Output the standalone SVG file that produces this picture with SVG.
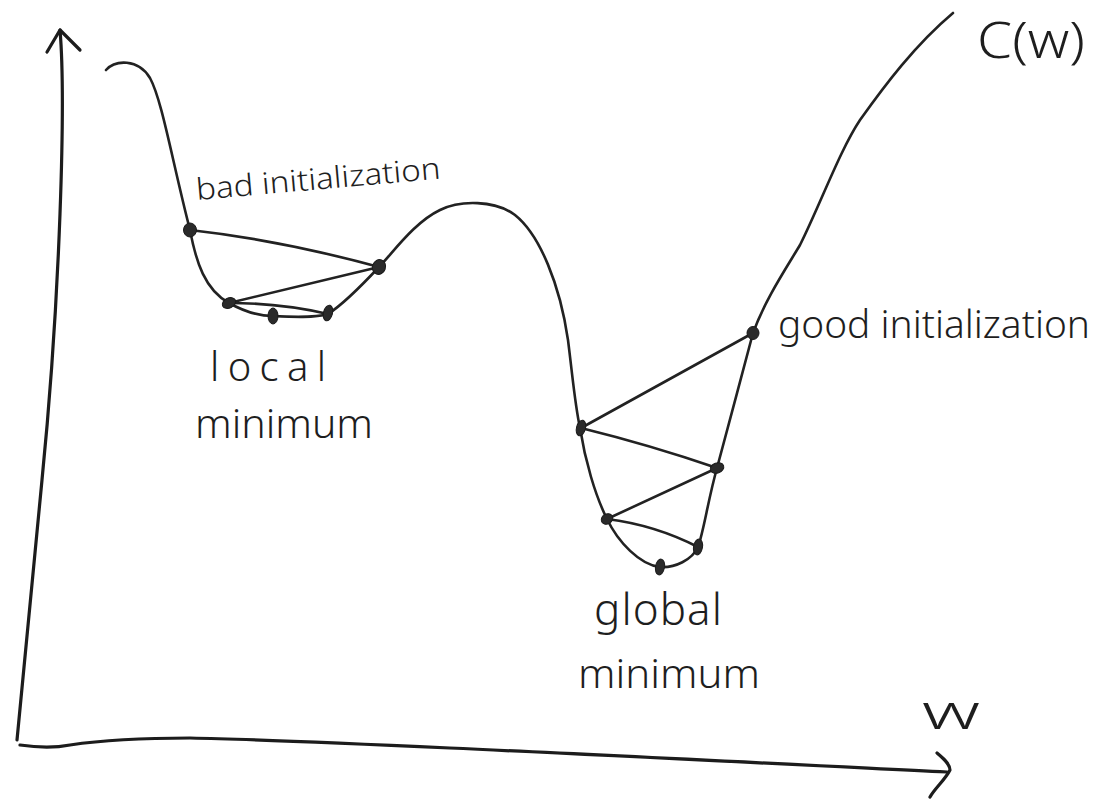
<svg xmlns="http://www.w3.org/2000/svg" width="1099" height="802" viewBox="0 0 1099 802">
<style>
.ink{fill:none;stroke:#222;stroke-width:2.6;stroke-linecap:round;stroke-linejoin:round}
.axis{fill:none;stroke:#1c1c1c;stroke-width:3.2;stroke-linecap:round;stroke-linejoin:round}
.dot{fill:#2a2a2a;stroke:#1a1a1a;stroke-width:1}
.lbl{font-family:"Noto Sans","Liberation Sans",sans-serif;fill:#1e1e1e;font-weight:300}
</style>
<rect width="1099" height="802" fill="#fff"/>
<g id="axes">
<path class="axis" d="M60,30 C66,100 60,300 42,480 L17,740"/>
<path class="axis" d="M47,52 L60,30 L80,50"/>
<path class="axis" d="M20,745 C40,748 55,748 70,745 C110,739 150,738 190,738 C300,740 600,755 947,772"/>
<path class="axis" d="M937,753 C943,758 950,764 950,770 C945,780 935,788 930,797"/>
</g>
<g id="curve">
<path class="ink" d="M106,70 C115,60 138,58 150,78 C162,100 172,160 190,230 C196,262 205,290 229,303 C245,312 258,316 273,316 C293,317 315,318 328,314 C342,305 365,282 379,267 C395,250 415,222 440,210 C460,200 495,200 515,215 C540,235 560,285 568,340 C573,380 575,405 580,428 C585,460 595,495 607,519 C618,542 640,565 660,567 C675,568 692,560 698,547 C704,530 708,500 717,468 C727,430 742,375 753,333 C765,300 785,270 800,245 C820,205 840,150 860,120 C885,85 915,45 953,13"/>
</g>
<g id="connectors">
<path class="ink" d="M190,230 Q280,240 379,267"/>
<path class="ink" d="M379,267 L229,303"/>
<path class="ink" d="M229,303 Q280,303 328,314"/>
<path class="ink" d="M753,333 L581,428"/>
<path class="ink" d="M581,428 Q650,445 717,468"/>
<path class="ink" d="M717,468 L607,519"/>
<path class="ink" d="M607,519 Q655,525 698,547"/>
</g>
<g id="local-points">
<ellipse id="p1" class="dot" cx="190" cy="230" rx="6.5" ry="7"/>
<ellipse id="p2" class="dot" cx="379" cy="267" rx="6.5" ry="7.5" transform="rotate(20 379 267)"/>
<ellipse id="p3" class="dot" cx="229" cy="303" rx="7" ry="5" transform="rotate(-25 229 303)"/>
<ellipse id="p4" class="dot" cx="273" cy="316" rx="5" ry="8"/>
<ellipse id="p5" class="dot" cx="328" cy="313" rx="4.5" ry="8" transform="rotate(15 328 313)"/>
</g>
<g id="global-points">
<ellipse id="q1" class="dot" cx="753" cy="333" rx="6" ry="6.5"/>
<ellipse id="q2" class="dot" cx="581" cy="428" rx="4.5" ry="8" transform="rotate(15 581 428)"/>
<ellipse id="q3" class="dot" cx="717" cy="468" rx="7" ry="5" transform="rotate(-20 717 468)"/>
<ellipse id="q4" class="dot" cx="607" cy="519" rx="6" ry="5" transform="rotate(-30 607 519)"/>
<ellipse id="q5" class="dot" cx="698" cy="547" rx="4.5" ry="8" transform="rotate(10 698 547)"/>
<ellipse id="q6" class="dot" cx="660" cy="567" rx="4.5" ry="8" transform="rotate(10 660 567)"/>
</g>
<g id="labels">
<text class="lbl" x="197" y="200" font-size="30" textLength="245" lengthAdjust="spacingAndGlyphs" transform="rotate(-5 197 200)">bad initialization</text>
<text class="lbl" x="210" y="381" font-size="40" textLength="116" lengthAdjust="spacing">local</text>
<text class="lbl" x="195" y="438" font-size="40" textLength="178" lengthAdjust="spacingAndGlyphs">minimum</text>
<text class="lbl" x="594" y="625" font-size="44" textLength="128" lengthAdjust="spacing">global</text>
<text class="lbl" x="578" y="688" font-size="40" textLength="182" lengthAdjust="spacingAndGlyphs">minimum</text>
<text class="lbl" x="778" y="338" font-size="38" textLength="312" lengthAdjust="spacingAndGlyphs">good initialization</text>
<text class="lbl" x="977" y="58" font-size="50" textLength="108" lengthAdjust="spacingAndGlyphs">C(w)</text>
<text class="lbl" x="922" y="729" font-size="48" textLength="58" lengthAdjust="spacingAndGlyphs">w</text>
</g>
</svg>
